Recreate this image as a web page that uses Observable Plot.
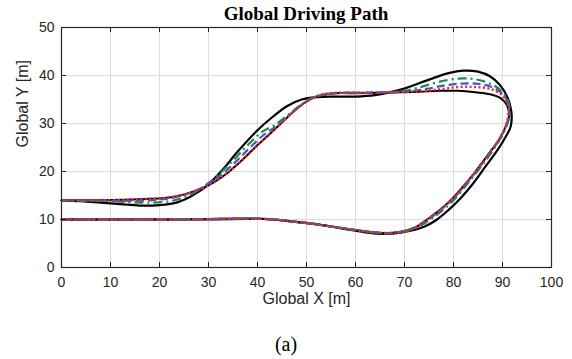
<!DOCTYPE html>
<html><head><meta charset="utf-8">
<script src="https://cdn.jsdelivr.net/npm/d3@7"></script>
<script src="https://cdn.jsdelivr.net/npm/@observablehq/plot@0.6"></script>
<style>
body{margin:0;background:#fff;}
#wrap{position:relative;width:572px;height:359px;overflow:hidden;background:#fff;}
#title{position:absolute;left:61px;width:490px;top:4px;line-height:19px;text-align:center;font-weight:bold;font-size:19px;font-family:"Liberation Serif","Times New Roman",serif;color:#000;white-space:nowrap;}
#cap{position:absolute;left:0;width:572px;top:334px;line-height:20px;text-align:center;font-size:20px;font-family:"Liberation Serif","Times New Roman",serif;color:#000;}
#chart{position:absolute;left:0;top:0;}
</style></head>
<body>
<div id="wrap">
  <div id="chart"></div>
  <div id="title">Global Driving Path</div>
  <div id="cap">(a)</div>
</div>
<script>
const xTicks = [0,10,20,30,40,50,60,70,80,90,100];
const yTicks = [0,10,20,30,40,50];
const xLabel = "Global X [m]";
const yLabel = "Global Y [m]";

// black solid (outer)
const pathBlackOuter = [[0,10],[10,10],[20,10],[30,10],[38,10.1],[42,10.1],[46,9.7],[50,9.3],[54,8.7],[58,8.0],[62,7.3],[65,7.0],[68,7.1],[71,7.6],[74,8.5],[76.5,9.9],[79,12],[81.5,14.5],[84,17.5],[86.5,21],[89,24.5],[90.8,27.5],[91.7,29.5],[91.8,32.5],[91,35.5],[89.5,38],[87.5,39.8],[85,40.8],[82,41],[79,40.5],[76,39.5],[73,38.4],[70,37.3],[67,36.5],[64,35.9],[60,35.6],[56,35.6],[52,35.5],[49,35],[46,33.6],[43,31.3],[40,28.6],[36,24.2],[33,20.5],[30,17.3],[28,15.8],[26,14.6],[23,13.4],[20,13.0],[16,12.9],[12,13.2],[8,13.5],[4,13.8],[0,14]];
// black solid (inner, mostly under the others)
const pathBlackInner = [[0,10],[10,10],[20,10],[30,10.1],[38,10.2],[43,10.0],[48,9.5],[52,9.0],[56,8.4],[60,7.8],[64,7.3],[67,7.2],[70,7.6],[72.5,8.5],[74.6,10],[77,11.8],[80,14.6],[82.5,17.5],[84.5,20],[87,23.4],[89.5,27],[90.9,30],[91.4,32],[90.8,34],[89.6,35.3],[87.5,36.1],[84.5,36.5],[81,36.8],[77,36.8],[73,36.6],[69,36.5],[65,36.4],[60,36.3],[56,36.3],[53,35.9],[51,35.2],[48.5,33.5],[46,31.2],[43,28.3],[40,25.5],[37,22.5],[34,19.8],[31,17.7],[28,16.2],[25,15.2],[22,14.6],[18,14.3],[13,14.1],[8,14.0],[4,14.0],[0,14]];
// green dash-dot
const pathGreen = [[0,10],[10,10],[20,10],[30,10.1],[38,10.2],[43,10.05],[48,9.5],[52,9.0],[56,8.4],[60,7.8],[64,7.25],[67,7.1],[70,7.5],[72.5,8.3],[75,9.8],[77.5,11.7],[80,14.0],[82.5,17],[85,20.2],[87.5,23.6],[89.8,27.3],[91.2,30.5],[91.5,33],[90.8,35.4],[89.3,37.2],[87,38.5],[84.5,39.2],[82,39.4],[79,39.1],[76,38.4],[73,37.5],[70,36.8],[66,36.5],[62,36.4],[58,36.4],[54,36.1],[51,35.2],[48.5,33.6],[46,31.6],[43.5,29.7],[41,28.3],[38,25.5],[35,22.3],[32,19.3],[30,17.6],[28,16.1],[25,14.6],[22,13.8],[18,13.5],[14,13.6],[10,13.8],[5,13.9],[0,14]];
// blue dashed
const pathBlue = [[0,10],[10,10],[20,10],[30,10.1],[38,10.2],[43,10.0],[48,9.5],[52,9.0],[56,8.4],[60,7.8],[64,7.3],[67,7.15],[70,7.55],[72.5,8.4],[74.8,10],[77.2,11.8],[80,14.4],[82.5,17.3],[84.7,20.1],[87.2,23.5],[89.6,27.1],[91,30.2],[91.3,32.8],[90.8,35],[89.5,36.6],[87.3,37.8],[84.5,38.3],[81.5,38.3],[78,37.9],[74.5,37.2],[71,36.7],[67,36.5],[62,36.4],[58,36.4],[54,36.1],[51,35.2],[48.5,33.5],[46,31.3],[43.5,29.2],[41,27.4],[38,24.5],[35,21.5],[32,18.8],[30,17.5],[28,16.3],[25,15.1],[22,14.4],[18,14.0],[13,13.9],[8,13.9],[4,14.0],[0,14]];
// red dotted
const pathRed = [[0,10],[10,10],[20,10],[30,10.1],[38,10.2],[43,10.0],[48,9.5],[52,9.0],[56,8.4],[60,7.8],[64,7.3],[67,7.2],[70,7.6],[72.5,8.5],[74.6,10],[77,11.8],[80,14.6],[82.5,17.5],[84.5,20],[87,23.4],[89.5,27],[90.8,30],[91.2,32.5],[90.8,34.6],[89.8,36],[87.5,37.2],[84.5,37.6],[81,37.6],[77,37.1],[73,36.7],[69,36.6],[65,36.5],[60,36.4],[56,36.4],[53,36],[51,35.2],[48.5,33.5],[46,31.2],[43,28.3],[40,25.5],[37,22.5],[34,19.8],[31,17.7],[28,16.2],[25,15.2],[22,14.6],[18,14.3],[13,14.1],[8,14.0],[4,14.0],[0,14]];

const axisColor = "#262626";
const X = d => d[0], Y = d => d[1];

const plot = Plot.plot({
  width: 572,
  height: 320,
  marginTop: 27,
  marginBottom: 53,
  marginLeft: 61,
  marginRight: 21,
  style: {fontSize: "14px", fontFamily: "'Liberation Sans', Arial, sans-serif", color: axisColor, background: "transparent"},
  x: {domain: [0, 100]},
  y: {domain: [0, 50]},
  marks: [
    Plot.ruleX(xTicks, {x: d => d, stroke: "#dcdcdc", strokeWidth: 1}),
    Plot.ruleY(yTicks, {y: d => d, stroke: "#dcdcdc", strokeWidth: 1}),
    Plot.line(pathBlackOuter, {x: X, y: Y, stroke: "#000", strokeWidth: 2.2, curve: "catmull-rom"}),
    Plot.line(pathBlackInner, {x: X, y: Y, stroke: "#000", strokeWidth: 2, curve: "catmull-rom"}),
    Plot.line(pathGreen, {x: X, y: Y, stroke: "#1e8a4a", strokeWidth: 2.2, strokeDasharray: "9,4,2,4", strokeLinecap: "butt", curve: "catmull-rom"}),
    Plot.line(pathBlue, {x: X, y: Y, stroke: "#3a5bcf", strokeWidth: 2.2, strokeDasharray: "8,4", strokeLinecap: "butt", curve: "catmull-rom"}),
    Plot.line(pathRed, {x: X, y: Y, stroke: "#ff2020", strokeWidth: 2.4, strokeDasharray: "2,2.5", strokeLinecap: "butt", curve: "catmull-rom"}),
    Plot.tickX(xTicks, {x: d => d, insetTop: 235, stroke: axisColor}),
    Plot.tickX(xTicks, {x: d => d, insetBottom: 235, stroke: axisColor}),
    Plot.tickY(yTicks, {y: d => d, insetRight: 485, stroke: axisColor}),
    Plot.tickY(yTicks, {y: d => d, insetLeft: 485, stroke: axisColor}),
    Plot.frame({stroke: axisColor, strokeWidth: 1.2}),
    Plot.axisX(xTicks, {tickSize: 0, tickPadding: 10, label: null, fill: axisColor}),
    Plot.axisY(yTicks, {tickSize: 0, tickPadding: 7, label: null, fill: axisColor}),
    Plot.text([xLabel], {frameAnchor: "bottom", dy: 36, text: d => d, fontSize: 16, fill: axisColor}),
    Plot.text([yLabel], {frameAnchor: "left", dx: -39, rotate: -90, text: d => d, fontSize: 16, fill: axisColor})
  ]
});
document.getElementById("chart").appendChild(plot);
</script>
</body></html>
